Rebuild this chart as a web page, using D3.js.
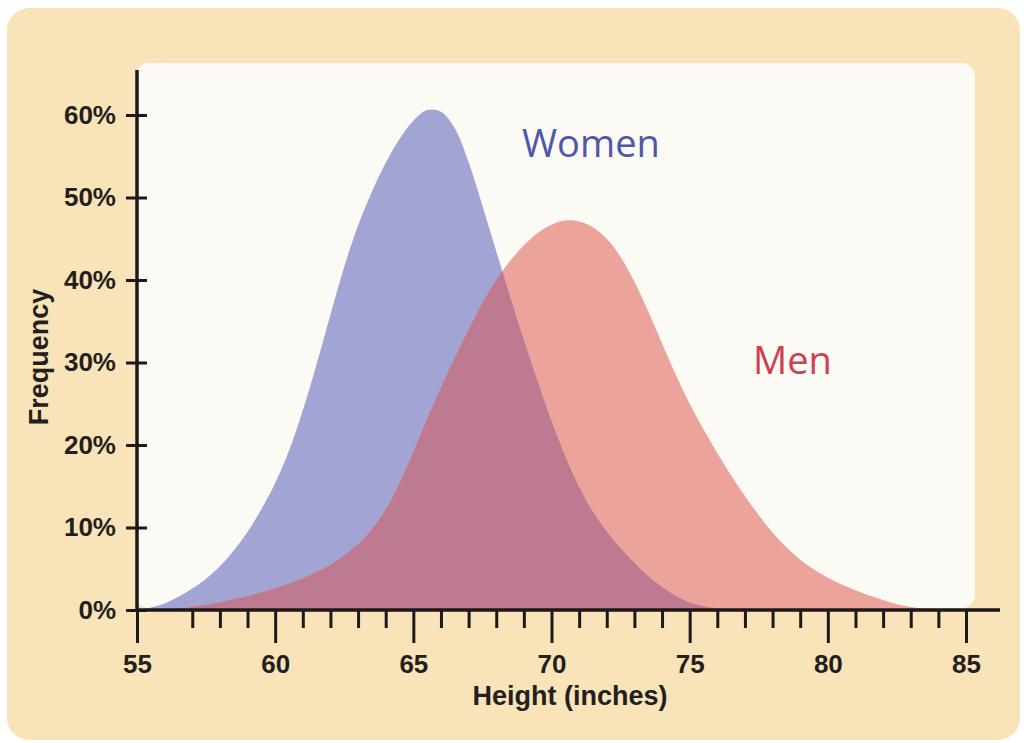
<!DOCTYPE html>
<html>
<head>
<meta charset="utf-8">
<script src="https://cdn.jsdelivr.net/npm/d3@7"></script>
<style>
    body { margin: 0; background: #ffffff; }
    text { font-family: "Liberation Sans", Arial, sans-serif; }
</style>
</head>
<body>
<div id="main"></div>
<script>
// height in inches (x) and frequency in % for each group
var heights = [55, 55.5, 56, 56.5, 57, 57.5, 58, 58.5, 59, 59.5, 60, 60.5, 61, 61.5, 62, 62.5,
    63, 63.5, 64, 64.5, 65, 65.5, 66, 66.5, 67, 67.5, 68, 68.5, 69, 69.5, 70, 70.5, 71, 71.5,
    72, 72.5, 73, 73.5, 74, 74.5, 75, 75.5, 76, 76.5, 77, 77.5, 78, 78.5, 79, 79.5, 80, 80.5,
    81, 81.5, 82, 82.5, 83, 83.5, 84];
var women = [0, 0.3, 0.8, 1.6, 2.6, 3.8, 5.3, 7.2, 9.5, 12.2, 15.4, 19.3, 24.2, 29.8, 35.8, 41.6,
    46.6, 50.7, 54.2, 57.1, 59.3, 60.6, 60.4, 58.4, 54.3, 49, 43.5, 38, 32.7, 27.7, 22.9, 18.6, 14.9, 11.9,
    9.5, 7.5, 5.7, 4.1, 2.8, 1.7, 0.9, 0.45, 0.2, 0.08, 0.02, 0, 0, 0, 0, 0, 0, 0,
    0, 0, 0, 0, 0, 0, 0];
var men = [0, 0.02, 0.08, 0.2, 0.4, 0.65, 0.95, 1.3, 1.7, 2.15, 2.65, 3.2, 3.85, 4.6, 5.5, 6.6,
    8, 9.8, 12.2, 15.4, 19.2, 23.2, 27, 30.6, 34, 37.2, 40, 42.3, 44.2, 45.7, 46.7, 47.2, 47.1, 46.4,
    45, 42.8, 39.8, 36.2, 32.3, 28.5, 25, 21.9, 19, 16.3, 13.8, 11.5, 9.4, 7.6, 6.1, 4.9, 3.9, 3.1,
    2.4, 1.75, 1.2, 0.7, 0.35, 0.12, 0];

var xMajor = [55, 60, 65, 70, 75, 80, 85];
var xMinor = [57, 58, 59, 61, 62, 63, 64, 66, 67, 68, 69, 71, 72, 73, 74, 76, 77, 78, 79, 81, 82, 83, 84];
var yTicks = [0, 10, 20, 30, 40, 50, 60];

var ctx = {
    w: 1026,
    h: 743,
    bg: "#f9e3b8",
    panel: "#fcfaf5",
    womenColor: "#a2a5d3",
    menColor: "#eba39b",
    overlapColor: "#be7a90",
    axisColor: "#1c1a18",
};

var svg = d3.select("#main").append("svg")
    .attr("width", ctx.w)
    .attr("height", ctx.h);

// backgrounds
svg.append("rect")
    .attr("x", 7).attr("y", 8)
    .attr("width", 1013).attr("height", 732)
    .attr("rx", 22)
    .style("fill", ctx.bg);
svg.append("rect")
    .attr("x", 136).attr("y", 63)
    .attr("width", 839).attr("height", 545)
    .attr("rx", 13)
    .style("fill", ctx.panel);

var x = d3.scaleLinear().domain([55, 85]).range([137, 966]);
var y = d3.scaleLinear().domain([0, 60]).range([610, 115]);

var pts = function (vals) {
    return heights.map(function (h, i) { return [h, vals[i]]; });
};

var area = d3.area()
    .x(function (d) { return x(d[0]); })
    .y0(y(0))
    .y1(function (d) { return y(d[1]); })
    .curve(d3.curveCatmullRom.alpha(0.5));

svg.append("clipPath").attr("id", "womenClip")
    .append("path").attr("d", area(pts(women)));

svg.append("path").attr("d", area(pts(women))).style("fill", ctx.womenColor);
svg.append("path").attr("d", area(pts(men))).style("fill", ctx.menColor);
svg.append("path").attr("d", area(pts(men)))
    .attr("clip-path", "url(#womenClip)")
    .style("fill", ctx.overlapColor);

// series labels
svg.append("text")
    .attr("x", 522).attr("y", 157)
    .style("font-family", "'Open Sans', 'Noto Sans', sans-serif")
    .style("font-size", "38px")
    .style("fill", "#4f57a8")
    .text("Women");
svg.append("text")
    .attr("x", 753).attr("y", 374)
    .style("font-family", "'Open Sans', 'Noto Sans', sans-serif")
    .style("font-size", "38px")
    .style("fill", "#d0404f")
    .text("Men");

// x axis
var xAxisG = svg.append("g").attr("transform", "translate(0," + y(0) + ")");
xAxisG.call(d3.axisBottom(x).tickValues(xMajor).tickSize(33).tickPadding(12)
    .tickFormat(d3.format("d")));
var xMinorG = svg.append("g").attr("transform", "translate(0," + y(0) + ")");
xMinorG.call(d3.axisBottom(x).tickValues(xMinor).tickSize(18).tickFormat(""));

// y axis
var yAxisG = svg.append("g").attr("transform", "translate(" + x(55) + ",0)");
yAxisG.call(d3.axisLeft(y).tickValues(yTicks).tickSize(11).tickPadding(10)
    .tickFormat(function (d) { return d + "%"; }));
yAxisG.selectAll(".tick line").attr("x1", 10);

[xAxisG, xMinorG, yAxisG].forEach(function (g) {
    g.select(".domain").remove();
    g.selectAll(".tick line").style("stroke", ctx.axisColor).style("stroke-width", 3);
    g.selectAll(".tick text")
        .style("font-family", "'Liberation Sans', Arial, sans-serif")
        .style("font-weight", "bold")
        .style("font-size", "26px")
        .style("fill", "#231f1c");
});

svg.append("line")
    .attr("x1", x(55)).attr("x2", 1000)
    .attr("y1", y(0)).attr("y2", y(0))
    .style("stroke", ctx.axisColor).style("stroke-width", 3.5);
svg.append("line")
    .attr("x1", x(55)).attr("x2", x(55))
    .attr("y1", 70).attr("y2", y(0))
    .style("stroke", ctx.axisColor).style("stroke-width", 3.5);

// axis titles
svg.append("text")
    .attr("x", 570).attr("y", 705)
    .attr("text-anchor", "middle")
    .style("font-weight", "bold")
    .style("font-size", "27px")
    .style("fill", "#231f1c")
    .text("Height (inches)");
svg.append("text")
    .attr("transform", "translate(48,357) rotate(-90)")
    .attr("text-anchor", "middle")
    .style("font-weight", "bold")
    .style("font-size", "27px")
    .style("fill", "#231f1c")
    .text("Frequency");
</script>
</body>
</html>
